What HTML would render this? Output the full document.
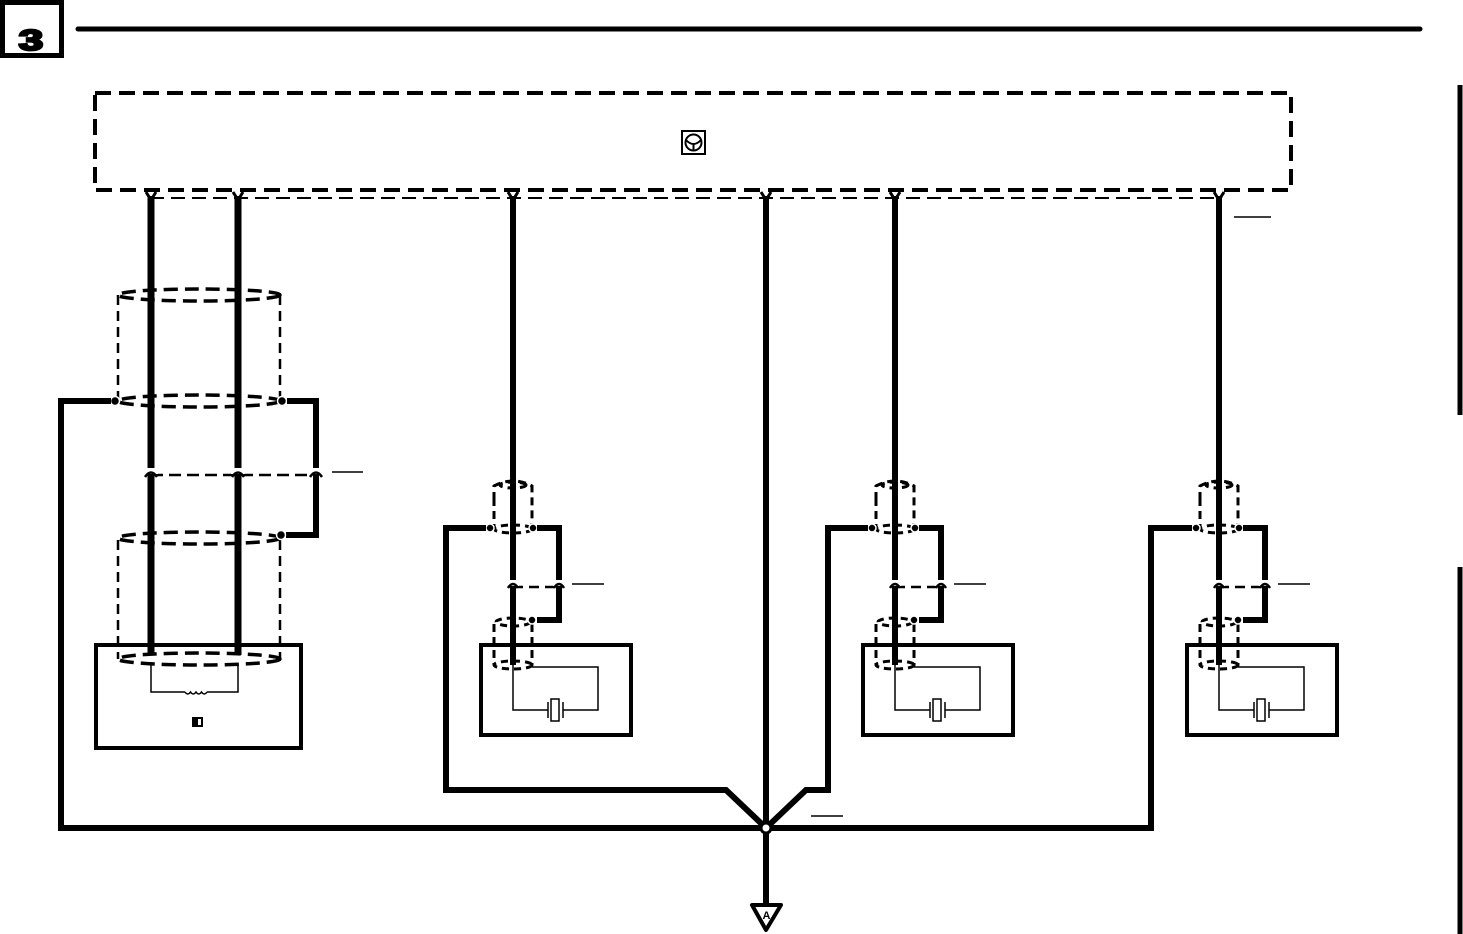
<!DOCTYPE html>
<html><head><meta charset="utf-8"><style>html,body{margin:0;padding:0;background:#fff}svg{display:block}</style></head>
<body>
<svg width="1463" height="934" viewBox="0 0 1463 934" xmlns="http://www.w3.org/2000/svg" fill="none" stroke="#000">
<defs>
<g id="grp">
  <line x1="513" y1="196" x2="513" y2="665" stroke-width="6"/>
  <path d="M494,500 V486 Q513,476 532,486 V526" stroke-width="3" stroke-dasharray="8,5"/>
  <ellipse cx="513" cy="485" rx="13" ry="3" stroke-width="3" stroke-dasharray="7,5"/>
  <ellipse cx="513" cy="529" rx="19" ry="4" stroke-width="3" stroke-dasharray="7,5"/>
  <line x1="494" y1="498" x2="494" y2="526" stroke-width="3" stroke-dasharray="8,5"/>
  <circle cx="490" cy="528" r="4" fill="#000" stroke="#fff" stroke-width="1.5"/>
  <circle cx="533" cy="528" r="4" fill="#000" stroke="#fff" stroke-width="1.5"/>
  <polyline points="537,528 559,528 559,620 537,620" stroke-width="6"/>
  <line x1="513" y1="587" x2="559" y2="587" stroke-width="2.5" stroke-dasharray="10,6" stroke="#000"/>
  <rect x="507" y="580" width="12" height="6" fill="#fff" stroke="none"/>
  <path d="M508,588 Q513,580 518,588" stroke-width="2.5"/>
  <rect x="553" y="580" width="12" height="6" fill="#fff" stroke="none"/>
  <path d="M554,588 Q559,580 564,588" stroke-width="2.5"/>
  <line x1="572" y1="584" x2="604" y2="584" stroke-width="1.5"/>
  <ellipse cx="513" cy="622" rx="17" ry="4" stroke-width="3" stroke-dasharray="7,5"/>
  <ellipse cx="513" cy="665" rx="19" ry="4" stroke-width="3" stroke-dasharray="7,5"/>
  <line x1="494" y1="624" x2="494" y2="665" stroke-width="3" stroke-dasharray="8,5"/>
  <line x1="532" y1="624" x2="532" y2="665" stroke-width="3" stroke-dasharray="8,5"/>
  <circle cx="532" cy="620" r="4" fill="#000" stroke="#fff" stroke-width="1.5"/>
  <rect x="481" y="645" width="150" height="90" stroke-width="4"/>
  <polyline points="532,667 598,667 598,710 563,710" stroke-width="1.5"/>
  <polyline points="548,710 513,710 513,665" stroke-width="1.5"/>
  <line x1="548" y1="702" x2="548" y2="718" stroke-width="1.5"/>
  <line x1="563" y1="702" x2="563" y2="718" stroke-width="1.5"/>
  <rect x="551" y="699" width="8" height="22" stroke-width="1.5" fill="#fff"/>
</g>
</defs>
<rect x="2.5" y="2.5" width="59" height="53" stroke-width="5"/>
<text transform="translate(31,50) scale(1.45,0.95)" x="0" y="0" font-family="Liberation Sans, sans-serif" font-weight="bold" font-size="30" fill="#000" stroke="#000" stroke-width="2.5" text-anchor="middle">3</text>
<line x1="78" y1="29" x2="1420" y2="29" stroke-width="5" stroke-linecap="round"/>
<line x1="1460" y1="85" x2="1460" y2="415" stroke-width="5"/>
<line x1="1460" y1="567" x2="1460" y2="934" stroke-width="5"/>
<rect x="95" y="93" width="1196" height="97" stroke-width="4" stroke-dasharray="16,8"/>
<line x1="150" y1="198" x2="1220" y2="198" stroke-width="2" stroke-dasharray="14,7"/>
<rect x="682" y="131" width="23" height="23" stroke-width="2"/>
<circle cx="693.5" cy="142.5" r="8" stroke-width="2"/>
<path d="M686,140 Q693.5,148 701,140 M693.5,144 V150" stroke-width="2"/>
<g stroke-width="3">
<path d="M146,192 L151,200 L156,192 M233,192 L238,200 L243,192 M508,192 L513,200 L518,192 M761,192 L766,200 L771,192 M890,192 L895,200 L900,192 M1214,192 L1219,200 L1224,192"/>
</g>
<line x1="151" y1="196" x2="151" y2="655" stroke-width="7"/>
<line x1="238" y1="196" x2="238" y2="655" stroke-width="7"/>
<ellipse cx="199" cy="295" rx="81" ry="6" stroke-width="3.5" stroke-dasharray="14,7"/>
<ellipse cx="199" cy="401" rx="81" ry="6" stroke-width="3.5" stroke-dasharray="14,7"/>
<line x1="118" y1="295" x2="118" y2="401" stroke-width="2.5" stroke-dasharray="10,6"/>
<line x1="280" y1="295" x2="280" y2="401" stroke-width="2.5" stroke-dasharray="10,6"/>
<circle cx="115" cy="401" r="4.5" fill="#000" stroke="#fff" stroke-width="1.5"/>
<circle cx="282" cy="401" r="4.5" fill="#000" stroke="#fff" stroke-width="1.5"/>
<polyline points="111,401 61,401 61,828 762,828" stroke-width="6"/>
<polyline points="287,401 316,401 316,535 286,535" stroke-width="6"/>
<line x1="151" y1="475" x2="316" y2="475" stroke-width="2.5" stroke-dasharray="12,6"/>
<rect x="144" y="468" width="14" height="6" fill="#fff" stroke="none"/>
<rect x="231" y="468" width="14" height="6" fill="#fff" stroke="none"/>
<rect x="309" y="468" width="14" height="6" fill="#fff" stroke="none"/>
<path d="M145,477 Q151,468 157,477 M232,477 Q238,468 244,477 M310,477 Q316,468 322,477" stroke-width="2.5"/>
<line x1="332" y1="472" x2="363" y2="472" stroke-width="1.5"/>
<ellipse cx="199" cy="538" rx="81" ry="6" stroke-width="3.5" stroke-dasharray="14,7"/>
<line x1="118" y1="540" x2="118" y2="659" stroke-width="2.5" stroke-dasharray="10,6"/>
<line x1="280" y1="540" x2="280" y2="659" stroke-width="2.5" stroke-dasharray="10,6"/>
<circle cx="281" cy="535" r="4.5" fill="#000" stroke="#fff" stroke-width="1.5"/>
<rect x="96" y="645" width="205" height="103" stroke-width="4"/>
<ellipse cx="199" cy="659" rx="81" ry="6" stroke-width="3.5" stroke-dasharray="14,7"/>
<polyline points="151,665 151,692 185,692" stroke-width="1.5"/>
<polyline points="207,692 238,692 238,665" stroke-width="1.5"/>
<path d="M185,692 q2.75,4 5.5,0 q2.75,4 5.5,0 q2.75,4 5.5,0 q2.75,4 5.5,0" stroke-width="1.5"/>
<rect x="192" y="717" width="11" height="10" fill="#000" stroke="none"/>
<rect x="198" y="719" width="3" height="6" fill="#fff" stroke="none"/>
<use href="#grp"/>
<use href="#grp" transform="translate(382,0)"/>
<use href="#grp" transform="translate(706,0)"/>
<polyline points="486,528 446,528 446,790 726,790 766,828" stroke-width="6"/>
<polyline points="868,528 828,528 828,790 806,790 766,828" stroke-width="6"/>
<polyline points="1192,528 1151,528 1151,828 770,828" stroke-width="6"/>
<line x1="1234" y1="217" x2="1271" y2="217" stroke-width="1.5"/>
<line x1="811" y1="816" x2="843" y2="816" stroke-width="1.5"/>
<line x1="766" y1="196" x2="766" y2="905" stroke-width="6"/>
<circle cx="766" cy="828" r="5" fill="#fff" stroke-width="3"/>
<polygon points="752,905 781,905 766,930" stroke-width="4" fill="#fff" stroke-linejoin="round"/>
<text x="766.5" y="919" font-family="Liberation Sans, sans-serif" font-weight="bold" font-size="11" fill="#000" stroke="none" text-anchor="middle">A</text>
</svg>
</body></html>
